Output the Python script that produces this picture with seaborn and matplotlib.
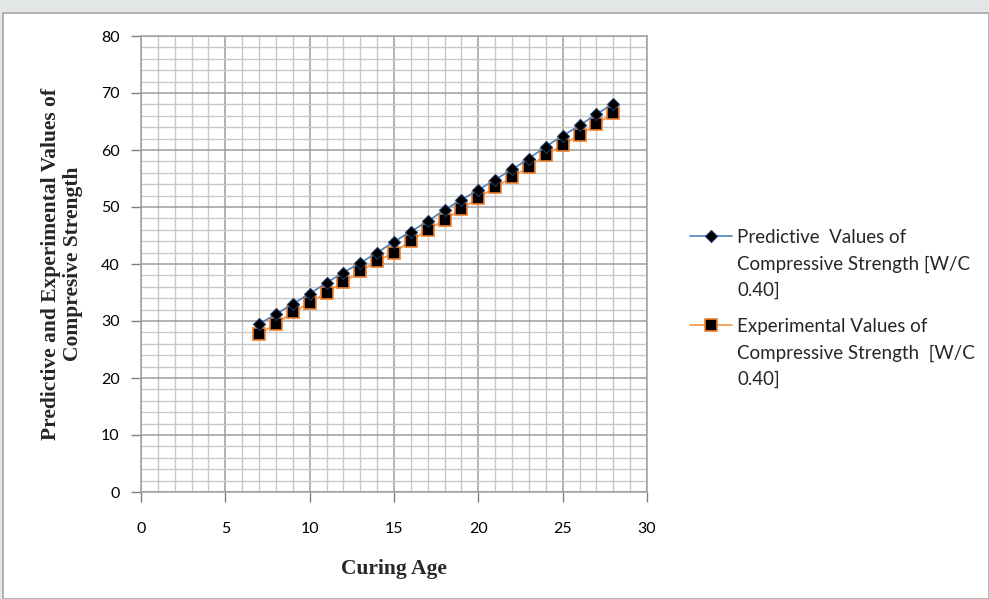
import numpy as np
import pandas as pd
import matplotlib
matplotlib.use("Agg")
import matplotlib.pyplot as plt
import seaborn as sns
from matplotlib.patches import Rectangle

# ---- data ----
curing_age = [7, 8, 9, 10, 11, 12, 13, 14, 15, 16, 17, 18, 19, 20, 21, 22, 23, 24, 25, 26, 27, 28]
predictive = [29.5, 31.2, 33.0, 34.8, 36.7, 38.5, 40.2, 42.0, 43.9, 45.7, 47.5, 49.5,
              51.3, 53.0, 54.8, 56.6, 58.5, 60.6, 62.5, 64.3, 66.3, 68.1]
experimental = [27.7, 29.5, 31.5, 33.2, 35.0, 36.8, 38.7, 40.5, 42.0, 44.1, 46.0, 47.7,
                49.7, 51.6, 53.5, 55.2, 57.1, 59.1, 60.9, 62.6, 64.5, 66.5]
label_pred = "Predictive  Values of\nCompressive Strength [W/C\n0.40]"
label_exp = "Experimental Values of\nCompressive Strength  [W/C\n0.40]"
x_ticks = [0, 5, 10, 15, 20, 25, 30]
y_ticks = [0, 10, 20, 30, 40, 50, 60, 70, 80]

sns.set_theme(style="white")
plt.rcParams['font.family'] = ['Lato', 'DejaVu Sans']

W, H = 989, 599
fig = plt.figure(figsize=(W / 100, H / 100), dpi=100)
fig.patch.set_facecolor("#e2e6e6")
# white chart area with thin grey frame
fig.patches.append(Rectangle((3 / W, 0), 1 - 3 / W, 1 - 13 / H, transform=fig.transFigure,
                             facecolor="white", edgecolor="#a6a6a6", linewidth=1.2, zorder=-5))

ax = fig.add_axes([141 / W, 1 - 492 / H, (647 - 141) / W, (492 - 36) / H])
ax.set_facecolor("none")

df = pd.DataFrame({"age": curing_age, "pred": predictive, "exp": experimental})
sns.lineplot(data=df, x="age", y="pred", ax=ax, color="#4f81bd", linewidth=1.2,
             marker="D", markersize=6.5, markerfacecolor="black", markeredgecolor="#1f3864",
             markeredgewidth=0.8, label=label_pred, zorder=4)
sns.lineplot(data=df, x="age", y="exp", ax=ax, color="#f79646", linewidth=1.2,
             marker="s", markersize=9, markerfacecolor="black", markeredgecolor="#f07f2a",
             markeredgewidth=1.2, label=label_exp, zorder=3)

ax.set_xlim(0, 30)
ax.set_ylim(0, 80)
ax.set_xticks(x_ticks)
ax.set_yticks(y_ticks)
ax.set_xticks(np.arange(0, 31, 1), minor=True)
ax.set_yticks(np.arange(0, 81, 2), minor=True)
ax.grid(which="major", color="#9c9c9c", linewidth=1.1)
ax.grid(which="minor", color="#c8c8c8", linewidth=1.0)
ax.set_axisbelow(True)
for s in ax.spines.values():
    s.set_visible(True)
    s.set_color("#a0a0a0")
    s.set_linewidth(1.1)

ax.tick_params(axis="both", which="major", direction="out", length=7.5, width=1,
               color="#808080", labelsize=11.5, labelcolor="black", bottom=True, left=True)
ax.tick_params(axis="x", which="major", pad=14)
ax.tick_params(axis="y", which="major", pad=8)
ax.tick_params(which="minor", length=0)

ax.set_xlabel("Curing Age", fontfamily="Liberation Serif", fontweight="bold",
              fontsize=15.5, labelpad=17)
ax.set_ylabel("Predictive and Experimental Values of\nCompresive Strength",
              fontfamily="Liberation Serif", fontweight="bold", fontsize=15.5,
              labelpad=13, linespacing=1.08)

leg = ax.legend(loc="upper left", bbox_to_anchor=(690 / W, 1 - 229 / H),
                bbox_transform=fig.transFigure, frameon=False, fontsize=13.5,
                handlelength=2.25, handletextpad=0.27, labelspacing=1.0,
                borderaxespad=0, borderpad=0)
for t in leg.get_texts():
    t.set_linespacing(1.66)
for col in leg._legend_handle_box.get_children():
    for hp in col.get_children():
        hp.align = "top"

fig.savefig("out.png", dpi=100, facecolor=fig.get_facecolor())
